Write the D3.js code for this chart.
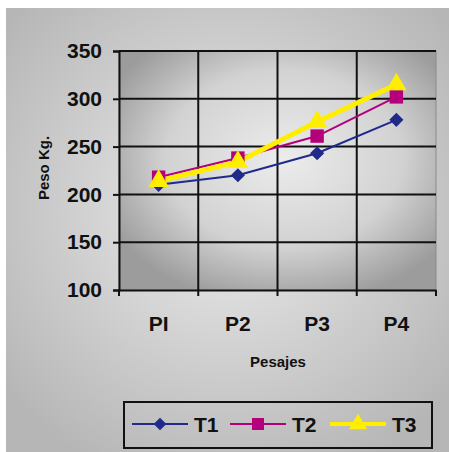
<!DOCTYPE html>
<html><head><meta charset="utf-8">
<script src="https://cdn.jsdelivr.net/npm/d3@7"></script>
<style>body{margin:0;background:#fff;}svg{display:block;font-family:"Liberation Sans",Arial,sans-serif;}</style>
</head><body>
<script>
const categories = ["PI","P2","P3","P4"];
const seriesNames = ["T1","T2","T3"];
const T1 = [210, 220, 243, 278];
const T2 = [218, 238, 261, 302];
const T3 = [214, 234, 276, 315];
const yTicks = [100,150,200,250,300,350];
const colors = ["#1f2a8a","#b4007b","#ffee00"];
const seriesData = [T1,T2,T3];

const W=449,H=452;
const FF="'Liberation Sans',Arial,sans-serif";
const svg=d3.select("body").append("svg").attr("width",W).attr("height",H);
const defs=svg.append("defs");
const g1=defs.append("radialGradient").attr("id","outer").attr("cx","0.5").attr("cy","0.45").attr("r","0.65");
g1.append("stop").attr("offset","0").attr("stop-color","#ececec");
g1.append("stop").attr("offset","1").attr("stop-color","#b6b6b6");
const g2=defs.append("radialGradient").attr("id","plot").attr("cx","0.52").attr("cy","0.45").attr("r","0.62");
g2.append("stop").attr("offset","0").attr("stop-color","#ececec");
g2.append("stop").attr("offset","0.6").attr("stop-color","#d2d2d2");
g2.append("stop").attr("offset","1").attr("stop-color","#9c9c9c");

svg.append("rect").attr("x",6).attr("y",8).attr("width",W-6).attr("height",H-8).attr("fill","url(#outer)");

const m={l:119,r:436,t:51,b:290};
const x=d3.scaleBand().domain(categories).range([m.l,m.r]).padding(0);
const y=d3.scaleLinear().domain([100,350]).range([m.b,m.t]);

svg.append("rect").attr("x",m.l).attr("y",m.t).attr("width",m.r-m.l).attr("height",m.b-m.t).attr("fill","url(#plot)").attr("stroke","#8a8a8a").attr("stroke-width",1);

svg.append("g").selectAll("line").data(yTicks.slice(1)).join("line")
  .attr("x1",m.l).attr("x2",m.r).attr("y1",d=>y(d)).attr("y2",d=>y(d))
  .attr("stroke","#111").attr("stroke-width",2);
svg.append("g").selectAll("line").data(categories.slice(1)).join("line")
  .attr("x1",d=>x(d)).attr("x2",d=>x(d)).attr("y1",m.t).attr("y2",m.b)
  .attr("stroke","#111").attr("stroke-width",2);

const ya=svg.append("g").attr("transform",`translate(${m.l},0)`)
  .call(d3.axisLeft(y).tickValues(yTicks).tickSize(6).tickPadding(11));
ya.select(".domain").attr("stroke","#111").attr("stroke-width",2);
ya.selectAll(".tick line").attr("stroke","#111").attr("stroke-width",2);
ya.selectAll(".tick text").attr("font-size",21).attr("font-weight","bold").attr("fill","#111")
  .attr("font-family",FF);

const xa=svg.append("g").attr("transform",`translate(0,${m.b})`)
  .call(d3.axisBottom(x).tickSize(0).tickPadding(26));
xa.select(".domain").attr("stroke","#111").attr("stroke-width",2);
xa.selectAll(".tick text").attr("font-size",21).attr("font-weight","bold").attr("fill","#111")
  .attr("font-family",FF);
svg.append("g").selectAll("line").data(categories.map(c=>x(c)).concat([m.r])).join("line")
  .attr("x1",d=>d).attr("x2",d=>d).attr("y1",m.b).attr("y2",m.b+6).attr("stroke","#111").attr("stroke-width",2);

svg.append("text").attr("x",278).attr("y",367).attr("text-anchor","middle").attr("font-family",FF)
  .attr("font-size",15).attr("font-weight","bold").attr("fill","#111").text("Pesajes");
svg.append("text").attr("transform","translate(49,168) rotate(-90)").attr("text-anchor","middle").attr("font-family",FF)
  .attr("font-size",15).attr("font-weight","bold").attr("fill","#111").text("Peso Kg.");

const cx=d=>x(d)+x.bandwidth()/2;
const lineW=[2,2,5];
const symbols=[d3.symbolSquare,d3.symbolSquare,d3.symbolTriangle];
const symRot=[45,0,0];
const symSize=[100,180,180];
seriesData.forEach((vals,i)=>{
  const pts=categories.map((c,j)=>[cx(c),y(vals[j])]);
  svg.append("path").attr("d",d3.line()(pts)).attr("fill","none").attr("stroke",colors[i]).attr("stroke-width",lineW[i]);
});
seriesData.forEach((vals,i)=>{
  svg.append("g").selectAll("path").data(categories).join("path")
    .attr("transform",(c,j)=>`translate(${cx(c)},${y(vals[j])}) rotate(${symRot[i]})`)
    .attr("d",d3.symbol().type(symbols[i]).size(symSize[i])).attr("fill",colors[i]);
});

svg.append("rect").attr("x",124).attr("y",402).attr("width",308).attr("height",46)
  .attr("fill","none").attr("stroke","#111").attr("stroke-width",2);
const lx=[132,230,330];
seriesNames.forEach((n,i)=>{
  const gy=424;
  svg.append("line").attr("x1",lx[i]).attr("x2",lx[i]+56).attr("y1",gy).attr("y2",gy).attr("stroke",colors[i]).attr("stroke-width",lineW[i]==5?4:2);
  svg.append("path").attr("transform",`translate(${lx[i]+28},${gy}) rotate(${symRot[i]})`).attr("d",d3.symbol().type(symbols[i]).size(symSize[i]*0.8)).attr("fill",colors[i]);
  svg.append("text").attr("x",lx[i]+62).attr("y",gy+8).attr("font-family",FF).attr("font-size",21).attr("font-weight","bold").attr("fill","#111").text(n);
});
</script>
</body></html>
